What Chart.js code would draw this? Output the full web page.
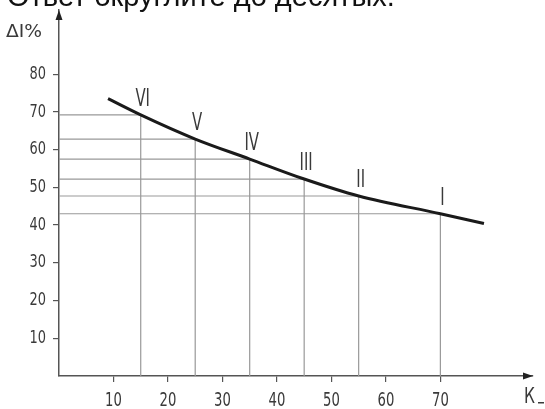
<!DOCTYPE html>
<html>
<head>
<meta charset="utf-8">
<title>ΔI% от К</title>
<script src="https://cdn.jsdelivr.net/npm/chart.js@4/dist/chart.umd.min.js"></script>
<style>
	html, body { margin: 0; padding: 0; background: #fff; }
	#wrap { width: 545px; height: 409px; position: relative; }
</style>
</head>
<body>
<div id="wrap"><canvas id="chart"></canvas></div>
<script>
'use strict';

// groups of the figure
var groupLabels = ["VI", "V", "IV", "III", "II", "I"];
var kValues = [15, 25, 35, 45, 55, 70];
var dIValues = [69.2, 62.8, 57.5, 52.2, 47.7, 43.0];

// the curve itself, a bit longer than the groups on both ends
var curveK = [9, 15, 25, 35, 45, 55, 70, 78];
var curveDI = [73.5, 69.2, 62.8, 57.5, 52.2, 47.7, 43.0, 40.4];

// tick labels
var xTicks = [10, 20, 30, 40, 50, 60, 70];
var yTicks = [10, 20, 30, 40, 50, 60, 70, 80];

(function(){

	var font = "'DejaVu Sans', sans-serif";
	var axisColor = "#555";
	var textColor = "#3a3a3a";

	// no narrow font installed, so squeeze the text by hand
	var narrowText = function(ctx, text, x, y, size, align, baseline, squeeze){
		ctx.save();
		ctx.font = size + "px " + font;
		ctx.textAlign = align;
		ctx.textBaseline = baseline;
		ctx.translate(x, y);
		ctx.scale(squeeze, 1);
		ctx.fillText(text, 0, 0);
		ctx.restore();
	};

	// curve points
	var curveData = curveK.map(function(k, i){ return {x: k, y: curveDI[i]}; });

	// one L shaped guide per group: from the y axis, to the curve, down to the x axis
	var guideSets = kValues.map(function(k, i){
		return {
			data: [{x: 0, y: dIValues[i]}, {x: k, y: dIValues[i]}, {x: k, y: 0}],
			borderColor: "#999",
			borderWidth: 1.2,
			pointRadius: 0,
			tension: 0,
			order: 2
		};
	});

	// keep only the ticks we want on a scale
	var keepTicks = function(list){
		return function(scale){
			scale.ticks = list.map(function(v){ return {value: v}; });
		};
	};

	// title, tick labels, axis names, arrows and the roman labels
	var extras = {
		id: "extras",
		afterDraw: function(chart){
			var ctx = chart.ctx;
			var area = chart.chartArea;
			var xs = chart.scales.x, ys = chart.scales.y;
			ctx.save();

			// cut title on top
			ctx.fillStyle = "#111";
			ctx.font = "29px 'Liberation Sans', Arial, sans-serif";
			ctx.textAlign = "left";
			ctx.textBaseline = "alphabetic";
			ctx.fillText("Ответ округлите до десятых.", 7, 6);

			// arrows
			ctx.fillStyle = "#222";
			ctx.beginPath();
			ctx.moveTo(area.left, area.top);
			ctx.lineTo(area.left - 3.5, area.top + 10);
			ctx.lineTo(area.left + 3.5, area.top + 10);
			ctx.closePath();
			ctx.fill();
			ctx.beginPath();
			ctx.moveTo(area.right, area.bottom);
			ctx.lineTo(area.right - 10, area.bottom - 3.5);
			ctx.lineTo(area.right - 10, area.bottom + 3.5);
			ctx.closePath();
			ctx.fill();

			ctx.fillStyle = textColor;

			// tick labels
			yTicks.forEach(function(v){
				narrowText(ctx, String(v), area.left - 13, ys.getPixelForValue(v), 18, "right", "middle", 0.72);
			});
			xTicks.forEach(function(v){
				narrowText(ctx, String(v), xs.getPixelForValue(v), area.bottom + 30, 20, "center", "alphabetic", 0.66);
			});

			// axis names
			narrowText(ctx, "ΔI%", 6, 37, 17, "left", "alphabetic", 1.1);
			narrowText(ctx, "К", 524, 403, 22, "left", "alphabetic", 0.7);
			ctx.fillRect(538, 402, 6, 1.5);

			// roman labels above the curve
			groupLabels.forEach(function(lbl, i){
				var px = xs.getPixelForValue(kValues[i]);
				var py = ys.getPixelForValue(dIValues[i]);
				narrowText(ctx, lbl, px + 2, py - 9, 24, "center", "alphabetic", 0.62);
			});
			ctx.restore();
		}
	};

	var ctx = document.getElementById("chart").getContext("2d");
	new Chart(ctx, {
		type: "line",
		data: {
			datasets: [{
				data: curveData,
				borderColor: "#1a1a1a",
				borderWidth: 3,
				pointRadius: 0,
				cubicInterpolationMode: "monotone",
				order: 1
			}].concat(guideSets)
		},
		options: {
			responsive: true,
			maintainAspectRatio: false,
			animation: false,
			events: [],
			layout: { padding: { top: 10, right: 12, left: 0, bottom: 0 } },
			plugins: { legend: { display: false }, tooltip: { enabled: false } },
			scales: {
				x: {
					type: "linear",
					min: 0,
					max: 87,
					afterBuildTicks: keepTicks(xTicks),
					afterFit: function(scale){ scale.height = 33; },
					grid: { drawOnChartArea: false, tickLength: 6, color: axisColor, lineWidth: 1.2 },
					border: { color: axisColor, width: 1.5 },
					ticks: { display: false }
				},
				y: {
					type: "linear",
					min: 0,
					max: 97,
					afterBuildTicks: keepTicks(yTicks),
					afterFit: function(scale){ scale.width = 59; },
					grid: { drawOnChartArea: false, tickLength: 6, color: axisColor, lineWidth: 1.2 },
					border: { color: axisColor, width: 1.5 },
					ticks: { display: false }
				}
			}
		},
		plugins: [extras]
	});

})();
</script>
</body>
</html>
